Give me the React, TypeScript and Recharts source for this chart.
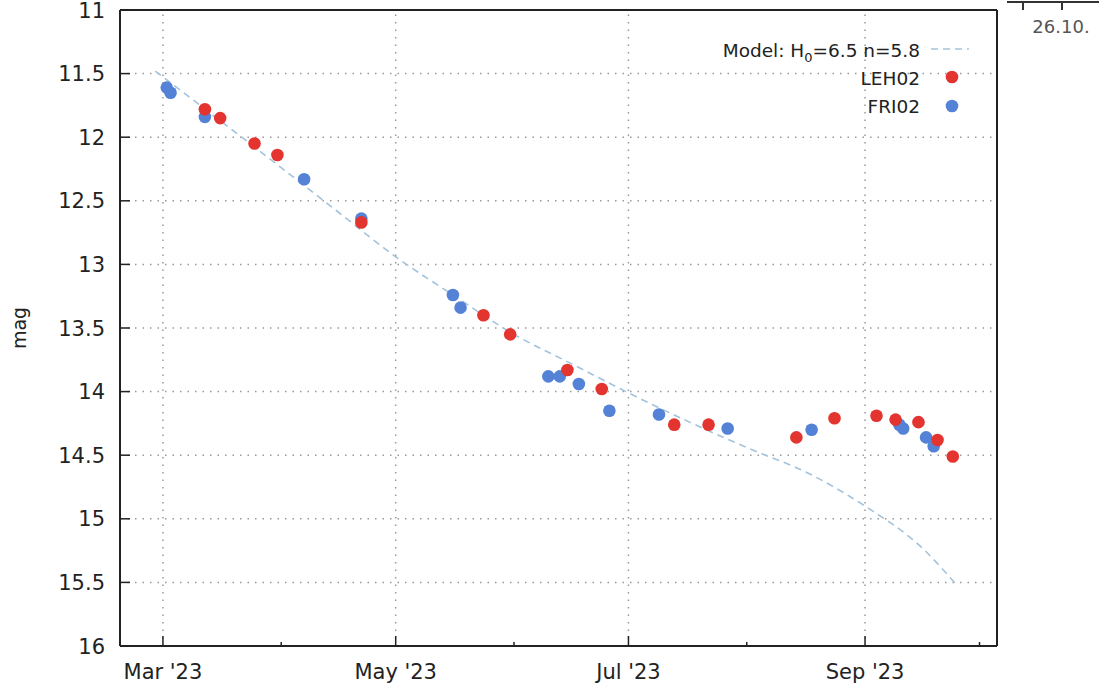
import {
  ComposedChart,
  Line,
  Scatter,
  XAxis,
  YAxis,
  CartesianGrid,
  ReferenceLine,
  Label,
} from "recharts";

// brightness of the comet, observed vs. model
const FONT = "DejaVu Sans, sans-serif";
const INK = "#222";
const RED = "#e3342f";
const BLUE = "#5482d6";
const MODEL = "#a3c3dc";
const GRID = "#999";

const ts = (d: string) => Date.parse(d + "T00:00:00Z");

const friDates = [
  "2023-03-02", "2023-03-03", "2023-03-12", "2023-04-07", "2023-04-22",
  "2023-05-16", "2023-05-18", "2023-06-10", "2023-06-13", "2023-06-18",
  "2023-06-26", "2023-07-09", "2023-07-27", "2023-08-18", "2023-09-10",
  "2023-09-11", "2023-09-17", "2023-09-19",
];
const friMags = [
  11.61, 11.65, 11.84, 12.33, 12.64, 13.24, 13.34, 13.88, 13.88, 13.94,
  14.15, 14.18, 14.29, 14.3, 14.26, 14.29, 14.36, 14.43,
];

const lehDates = [
  "2023-03-12", "2023-03-16", "2023-03-25", "2023-03-31", "2023-04-22",
  "2023-05-24", "2023-05-31", "2023-06-15", "2023-06-24", "2023-07-13",
  "2023-07-22", "2023-08-14", "2023-08-24", "2023-09-04", "2023-09-09",
  "2023-09-15", "2023-09-20", "2023-09-24",
];
const lehMags = [
  11.78, 11.85, 12.05, 12.14, 12.67, 13.4, 13.55, 13.83, 13.98, 14.26,
  14.26, 14.36, 14.21, 14.19, 14.22, 14.24, 14.38, 14.51,
];

const modelDates = [
  "2023-02-27", "2023-03-16", "2023-04-01", "2023-04-16", "2023-05-01",
  "2023-05-16", "2023-06-01", "2023-06-16", "2023-07-01", "2023-07-17",
  "2023-08-01", "2023-08-17", "2023-09-01", "2023-09-16", "2023-09-25",
];
const modelMags = [
  11.48, 11.87, 12.24, 12.59, 12.94, 13.24, 13.55, 13.78, 14.01, 14.24,
  14.44, 14.64, 14.9, 15.23, 15.52,
];

const monthTicks = [
  "2023-03-01", "2023-04-01", "2023-05-01", "2023-06-01",
  "2023-07-01", "2023-08-01", "2023-09-01", "2023-10-01",
];
const monthLabels = ["Mar '23", "", "May '23", "", "Jul '23", "", "Sep '23", ""];
const magTicks = [11, 11.5, 12, 12.5, 13, 13.5, 14, 14.5, 15, 15.5, 16];

const xMin = Date.parse("2023-02-17T18:00:00Z");
const xMax = Date.parse("2023-10-05T14:00:00Z");

const friData = friDates.map((d, i) => ({ t: ts(d), mag: friMags[i] }));
const lehData = lehDates.map((d, i) => ({ t: ts(d), mag: lehMags[i] }));
const modelData = modelDates.map((d, i) => ({ t: ts(d), mag: modelMags[i] }));
const xTicks = monthTicks.map(ts);

function XTick(props: any) {
  const { x, y, index } = props;
  const label = monthLabels[index];
  return (
    <g>
      <line x1={x} x2={x} y1={y} y2={y - (label ? 10 : 4)} stroke={INK} strokeWidth={1.5} />
      {label && (
        <text x={x} y={y + 33} textAnchor="middle" fontSize={21} fontFamily={FONT} fill={INK}>
          {label}
        </text>
      )}
    </g>
  );
}

function YTick(props: any) {
  const { x, y, payload } = props;
  return (
    <g>
      <line x1={x} x2={x + 10} y1={y} y2={y} stroke={INK} strokeWidth={1.5} />
      <text x={x - 15} y={y + 7.5} textAnchor="end" fontSize={21} fontFamily={FONT} fill={INK}>
        {String(payload.value)}
      </text>
    </g>
  );
}

const dot = (color: string) => (p: any) => (
  <circle cx={p.cx} cy={p.cy} r={6.3} fill={color} />
);

function Legend() {
  return (
    <g fontFamily={FONT} fontSize={18.5} fill={INK}>
      <text x={920} y={57} textAnchor="end">
        Model: H<tspan dy={5} fontSize={13}>0</tspan>
        <tspan dy={-5}>=6.5 n=5.8</tspan>
      </text>
      <line x1={931} x2={969} y1={49} y2={49} stroke={MODEL} strokeWidth={1.5} strokeDasharray="7 5" />
      <text x={920} y={85} textAnchor="end">LEH02</text>
      <circle cx={952} cy={77} r={6.3} fill={RED} />
      <text x={920} y={113} textAnchor="end">FRI02</text>
      <circle cx={952} cy={106} r={6.3} fill={BLUE} />
    </g>
  );
}

export default function App() {
  return (
    <div style={{ position: "absolute", left: 0, top: 0, width: 1099, height: 685 }}>
      <ComposedChart
        width={1099}
        height={685}
        margin={{ top: 10, right: 102, bottom: 0, left: 0 }}
      >
        <CartesianGrid vertical={false} stroke={GRID} strokeWidth={1.5} strokeDasharray="1.5 6" />
        {xTicks.filter((_, i) => monthLabels[i]).map((t) => (
          <ReferenceLine key={t} x={t} stroke={GRID} strokeWidth={1.5} strokeDasharray="1.5 6" />
        ))}
        <ReferenceLine y={11} stroke={INK} strokeWidth={2} />
        <ReferenceLine x={xMax} stroke={INK} strokeWidth={2} />
        <XAxis
          dataKey="t"
          type="number"
          domain={[xMin, xMax]}
          ticks={xTicks}
          interval={0}
          allowDataOverflow
          height={39}
          tickSize={0}
          tickMargin={0}
          tickLine={false}
          axisLine={{ stroke: INK, strokeWidth: 2 }}
          tick={<XTick />}
        />
        <YAxis
          dataKey="mag"
          type="number"
          domain={[11, 16]}
          ticks={magTicks}
          interval={0}
          reversed
          allowDataOverflow
          width={120}
          tickSize={0}
          tickMargin={0}
          tickLine={false}
          axisLine={{ stroke: INK, strokeWidth: 2 }}
          tick={<YTick />}
        >
          <Label
            content={(p: any) => (
              <text
                x={26}
                y={p.viewBox.y + p.viewBox.height / 2}
                transform={`rotate(-90, 26, ${p.viewBox.y + p.viewBox.height / 2})`}
                textAnchor="middle"
                fontSize={19}
                fontFamily={FONT}
                fill={INK}
              >
                mag
              </text>
            )}
          />
        </YAxis>
        <Line
          data={modelData}
          dataKey="mag"
          type="monotone"
          stroke={MODEL}
          strokeWidth={1.6}
          strokeDasharray="7 5"
          dot={false}
          activeDot={false}
          isAnimationActive={false}
        />
        <Scatter name="FRI02" data={friData} dataKey="mag" shape={dot(BLUE)} isAnimationActive={false} />
        <Scatter name="LEH02" data={lehData} dataKey="mag" shape={dot(RED)} isAnimationActive={false} />
      </ComposedChart>
      <svg width={1099} height={685} style={{ position: "absolute", left: 0, top: 0, pointerEvents: "none" }}>
        <Legend />
        <g stroke="#333" strokeWidth={2}>
          <line x1={1007} x2={1099} y1={2} y2={2} />
          <line x1={1023} x2={1023} y1={2} y2={10} />
          <line x1={1062} x2={1062} y1={2} y2={10} />
        </g>
        <text x={1061} y={33} textAnchor="middle" fontSize={18} fontFamily={FONT} fill="#555">
          26.10.
        </text>
      </svg>
    </div>
  );
}
